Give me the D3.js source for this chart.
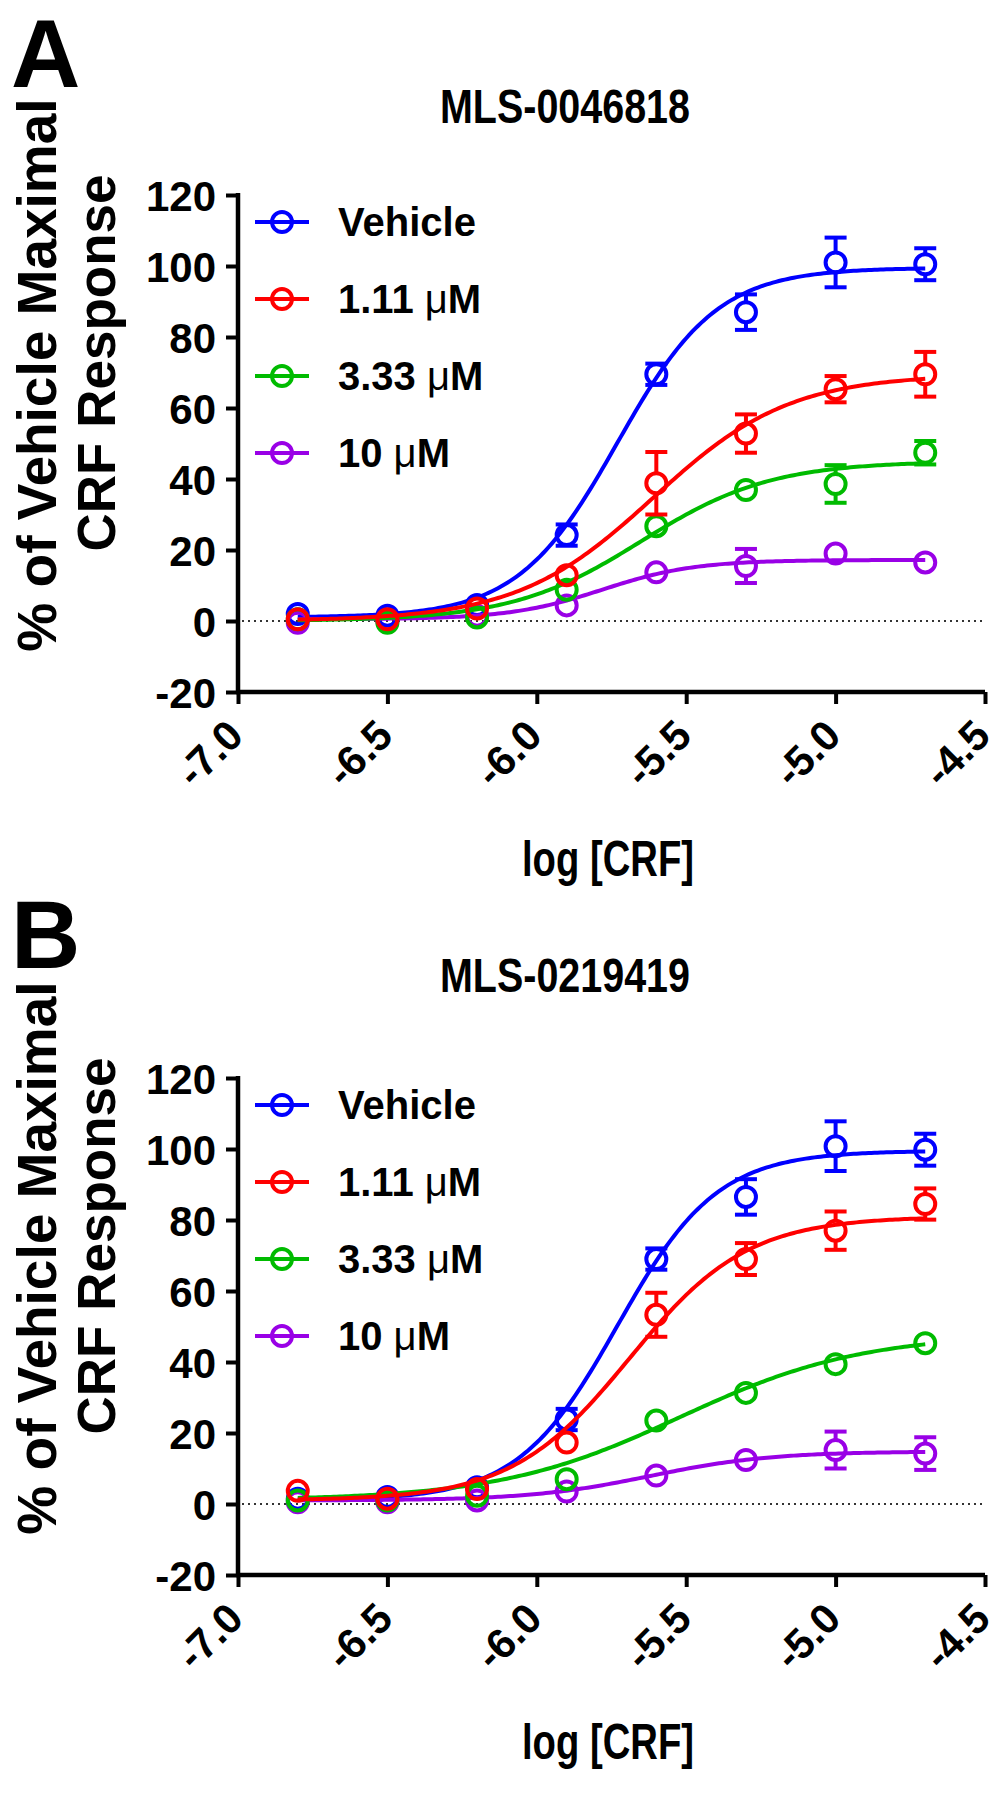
<!DOCTYPE html>
<html><head><meta charset="utf-8">
<script src="https://cdn.jsdelivr.net/npm/d3@7"></script>
<style>
body{margin:0;background:#fff}
svg text{font-family:"Liberation Sans",Arial,Helvetica,sans-serif;font-weight:bold;fill:#000}
</style></head>
<body><svg id="chart" width="1001" height="1800"></svg>
<script>
// ---- data ----
const logCRF = [-6.8, -6.5, -6.2, -5.9, -5.6, -5.3, -5.0, -4.7];
const xTicks = [-7.0, -6.5, -6.0, -5.5, -5.0, -4.5];
const yTicks = [-20, 0, 20, 40, 60, 80, 100, 120];
const seriesNames = ["Vehicle", "1.11 \u03bcM", "3.33 \u03bcM", "10 \u03bcM"];
const seriesColors = ["#0000ff", "#ff0000", "#00bb00", "#9900e6"];
const panelLetters = ["A", "B"];
const panelTitles = ["MLS-0046818", "MLS-0219419"];

// Panel A means and SEM
const vehicleA = [2.0, 1.5, 4.5, 24.2, 69.5, 87.0, 101.0, 100.5];
const vehicleAErr = [0.5, 0.5, 0.5, 3.0, 3.0, 5.0, 7.0, 4.5];
const lowA = [0.5, 0.5, 3.5, 12.9, 38.8, 52.8, 65.3, 69.5];
const lowAErr = [0.5, 0.5, 0.5, 0.5, 8.8, 5.4, 3.7, 6.3];
const midA = [0.5, -0.5, 1.0, 8.8, 26.7, 36.9, 38.6, 47.4];
const midAErr = [0.5, 0.5, 0.5, 0.5, 0.5, 1.0, 5.3, 3.3];
const highA = [-0.5, 0.0, 1.5, 4.4, 13.7, 15.5, 19.0, 16.5];
const highAErr = [0.5, 0.5, 0.5, 0.5, 0.5, 4.8, 1.0, 1.0];

// Panel B means and SEM
const vehicleB = [1.5, 2.0, 4.7, 23.8, 69.0, 86.5, 100.8, 99.8];
const vehicleBErr = [0.5, 0.5, 0.5, 3.0, 3.0, 5.0, 7.0, 4.5];
const lowB = [3.7, 1.5, 4.2, 17.3, 53.3, 69.0, 77.0, 84.5];
const lowBErr = [0.5, 0.5, 0.5, 1.0, 6.2, 4.5, 5.4, 4.4];
const midB = [1.0, 1.0, 2.3, 7.0, 23.5, 31.3, 39.4, 45.3];
const midBErr = [0.5, 0.5, 0.5, 0.5, 0.5, 0.5, 0.5, 0.5];
const highB = [0.5, 0.5, 1.0, 3.5, 8.0, 12.4, 15.2, 14.2];
const highBErr = [0.5, 0.5, 0.5, 0.5, 0.5, 1.0, 5.2, 4.6];

// Fitted sigmoid (bottom, top, logEC50, hill) for each series
const fitBottomA = [1.0, 0.0, 0.0, 0.5];
const fitTopA = [99.5, 69.5, 45.0, 17.2];
const fitEC50A = [-5.73, -5.61, -5.65, -5.78];
const fitHillA = [2.6, 1.9, 2.0, 2.8];
const fitBottomB = [1.0, 1.0, 1.0, 1.0];
const fitTopB = [99.5, 81.0, 48.0, 14.8];
const fitEC50B = [-5.73, -5.69, -5.52, -5.62];
const fitHillB = [2.6, 2.2, 1.42, 2.15];

const panels = [
  {values:[vehicleA, lowA, midA, highA], errs:[vehicleAErr, lowAErr, midAErr, highAErr],
   fit:{bottom:fitBottomA, top:fitTopA, ec50:fitEC50A, hill:fitHillA}, titleY:123, letterY:87},
  {values:[vehicleB, lowB, midB, highB], errs:[vehicleBErr, lowBErr, midBErr, highBErr],
   fit:{bottom:fitBottomB, top:fitTopB, ec50:fitEC50B, hill:fitHillB}, titleY:992, letterY:968}
];

// ---- layout ----
const svg = d3.select("#chart");
const left = 238, right = 985, panelOffset = 883;
const drawOrder = [0, 3, 2, 1];

panels.forEach((p, pi) => {
  const off = pi * panelOffset;
  const top = 195 + off, bottom = 692 + off;
  const x = d3.scaleLinear().domain([-7.0, -4.5]).range([left, right]);
  const y = d3.scaleLinear().domain([-20, 120]).range([bottom, top]);
  const g = svg.append("g");

  // panel letter & title
  g.append("text").attr("x", 11).attr("y", p.letterY)
    .style("font-size", "96px").text(panelLetters[pi]);
  g.append("text").attr("x", 565).attr("y", p.titleY)
    .attr("text-anchor", "middle").style("font-size", "48px")
    .attr("textLength", 250).attr("lengthAdjust", "spacingAndGlyphs").text(panelTitles[pi]);

  // zero dotted line
  g.append("line").attr("x1", left + 4).attr("x2", right)
    .attr("y1", y(0)).attr("y2", y(0))
    .attr("stroke", "#333").attr("stroke-width", 2).attr("stroke-dasharray", "2,4");

  // axes
  const yAxis = g.append("g").attr("transform", `translate(${left},0)`)
    .call(d3.axisLeft(y).tickValues(yTicks).tickSize(12).tickPadding(10).tickFormat(d => String(d)));
  const xAxis = g.append("g").attr("transform", `translate(0,${bottom})`)
    .call(d3.axisBottom(x).tickValues(xTicks).tickSize(12).tickFormat(d => d.toFixed(1)));
  yAxis.select(".domain").remove();
  xAxis.select(".domain").remove();
  [yAxis, xAxis].forEach(a => a.selectAll(".tick line").attr("stroke", "#000").attr("stroke-width", 4));
  g.append("line").attr("x1", left).attr("x2", left).attr("y1", top - 2).attr("y2", bottom + 2)
    .attr("stroke", "#000").attr("stroke-width", 4.5);
  g.append("line").attr("x1", left - 2).attr("x2", right).attr("y1", bottom).attr("y2", bottom)
    .attr("stroke", "#000").attr("stroke-width", 4.5);
  yAxis.selectAll(".tick text").style("font-size", "42px").style("font-family", null)
    .attr("dy", "0.36em");
  xAxis.selectAll(".tick text").style("font-size", "42px").style("font-family", null)
    .attr("text-anchor", "end").attr("dy", null).attr("y", null)
    .attr("transform", "translate(7,46) rotate(-45)");

  // axis titles
  const cy = 375 + off;
  g.append("text").attr("transform", `translate(56,${cy}) rotate(-90)`)
    .attr("text-anchor", "middle").style("font-size", "55px").text("% of Vehicle Maximal");
  g.append("text").attr("transform", `translate(115,${cy - 12}) rotate(-90)`)
    .attr("text-anchor", "middle").style("font-size", "53px").text("CRF Response");
  g.append("text").attr("x", 608).attr("y", 876 + off)
    .attr("text-anchor", "middle").style("font-size", "50px")
    .attr("textLength", 172).attr("lengthAdjust", "spacingAndGlyphs").text("log [CRF]");

  // series
  const grid = d3.range(-6.8, -4.699, 0.01);
  const r = 10, cap = 11;
  drawOrder.forEach(si => {
    const col = seriesColors[si];
    const f = v => p.fit.bottom[si] + (p.fit.top[si] - p.fit.bottom[si]) /
      (1 + Math.pow(10, (p.fit.ec50[si] - v) * p.fit.hill[si]));
    const sg = g.append("g");
    sg.append("path").datum(grid)
      .attr("d", d3.line().x(v => x(v)).y(v => y(f(v))))
      .attr("fill", "none").attr("stroke", col).attr("stroke-width", 4);
    logCRF.forEach((lx, i) => {
      const cx = x(lx), yv = y(p.values[si][i]);
      const e = p.errs[si][i];
      const yHi = y(p.values[si][i] + e), yLo = y(p.values[si][i] - e);
      if (yv - yHi > r) {
        [[yv - r, yHi], [yv + r, yLo]].forEach(([a, b]) => {
          sg.append("line").attr("x1", cx).attr("x2", cx).attr("y1", a).attr("y2", b)
            .attr("stroke", col).attr("stroke-width", 4);
          sg.append("line").attr("x1", cx - cap).attr("x2", cx + cap).attr("y1", b).attr("y2", b)
            .attr("stroke", col).attr("stroke-width", 4);
        });
      }
      sg.append("circle").attr("cx", cx).attr("cy", yv).attr("r", r)
        .attr("fill", "none").attr("stroke", col).attr("stroke-width", 4);
    });
  });

  // legend
  seriesNames.forEach((name, si) => {
    const ly = 222 + si * 77 + off;
    const col = seriesColors[si];
    g.append("line").attr("x1", 255).attr("x2", 309).attr("y1", ly).attr("y2", ly)
      .attr("stroke", col).attr("stroke-width", 4);
    g.append("circle").attr("cx", 282).attr("cy", ly).attr("r", 10)
      .attr("fill", "none").attr("stroke", col).attr("stroke-width", 4);
    const t = g.append("text").attr("x", 338).attr("y", ly).attr("dy", "0.36em")
      .style("font-size", "40px");
    const parts = name.split("\u03bc");
    t.append("tspan").text(parts[0]);
    if (parts.length > 1) {
      t.append("tspan").style("font-weight", "normal").text("\u03bc");
      t.append("tspan").text(parts[1]);
    }
  });
});
</script></body></html>
